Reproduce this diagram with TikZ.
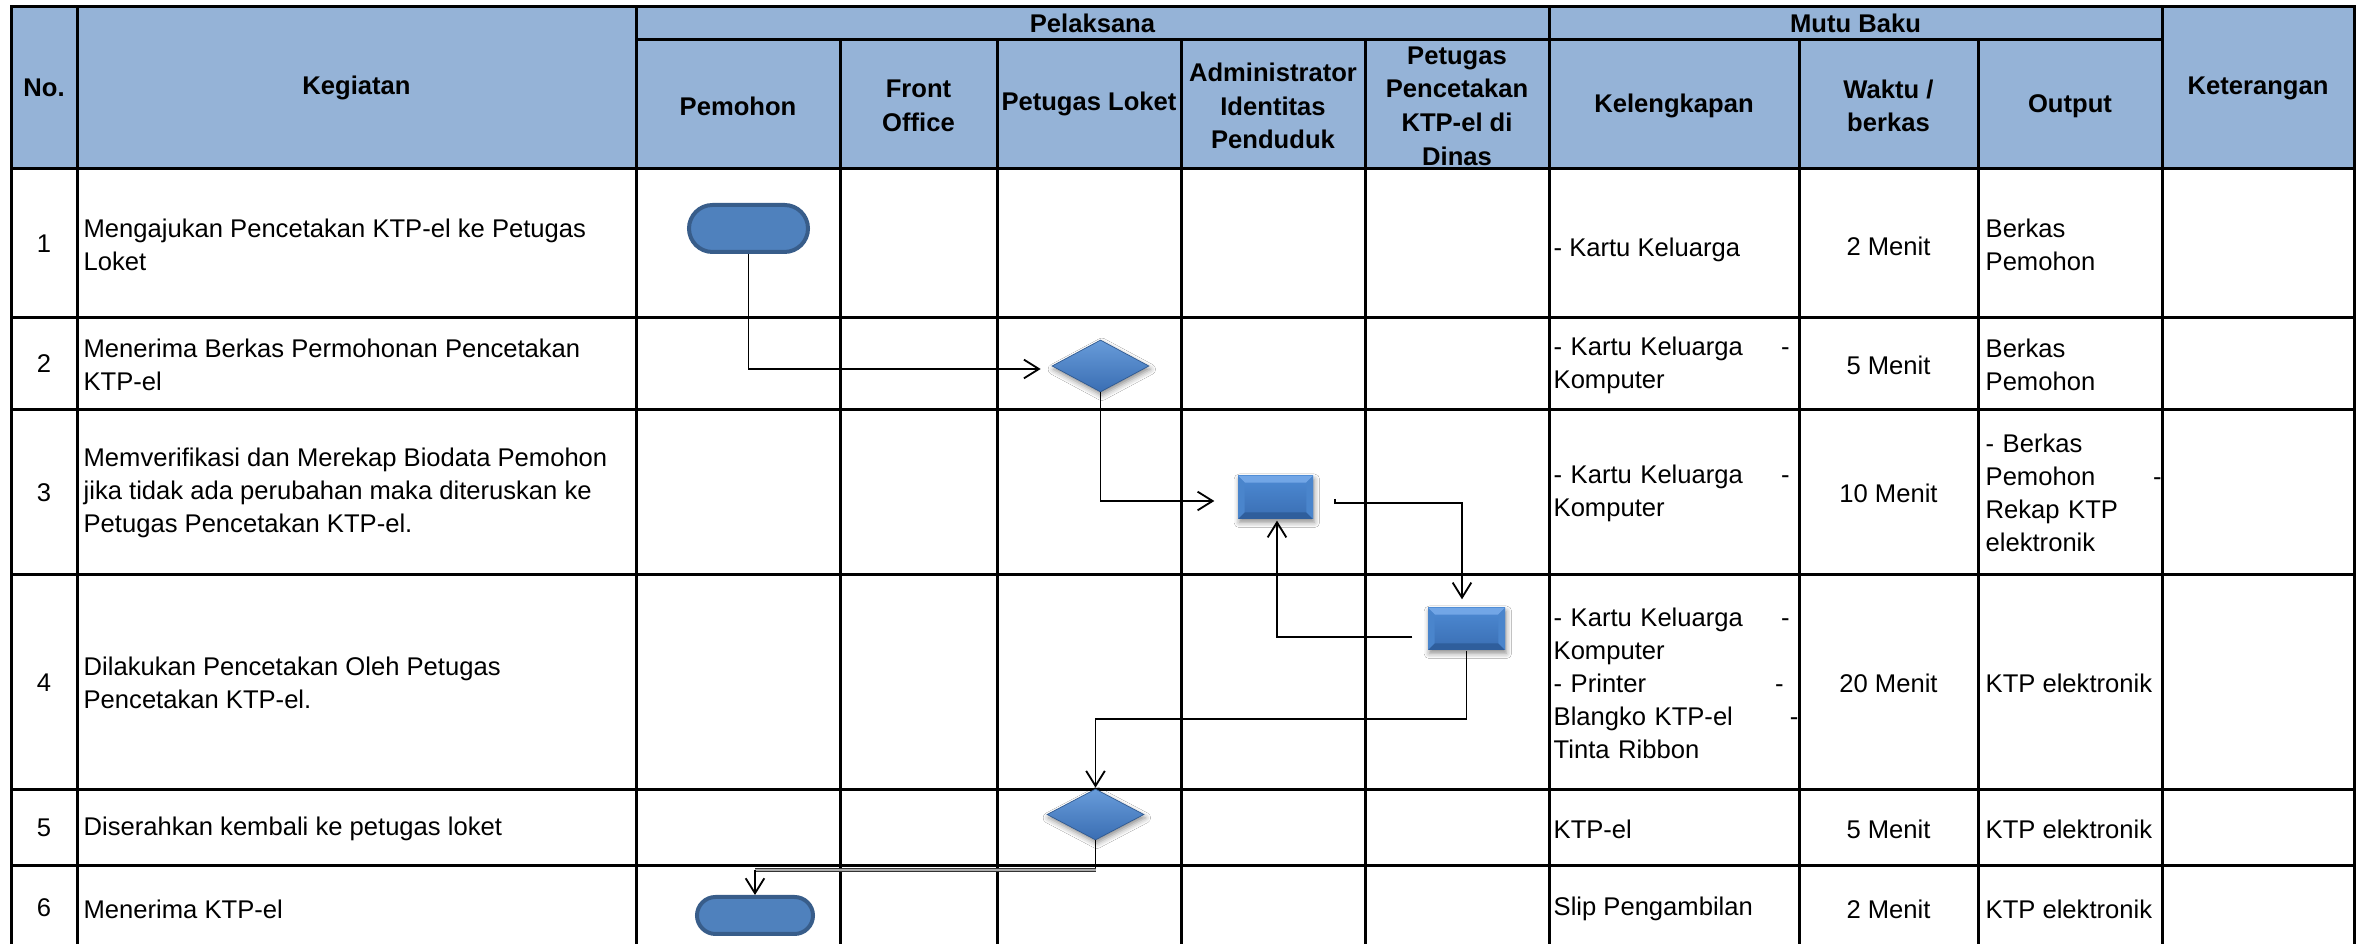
\documentclass[tikz,border=0pt]{standalone}
\usepackage{fontspec}
\setmainfont{Liberation Sans}
\usetikzlibrary{calc,arrows.meta,shapes.geometric,shapes.misc,shadows.blur}

\definecolor{hdrblue}{HTML}{95B3D7}
\definecolor{termfill}{HTML}{4F81BD}
\definecolor{termline}{HTML}{385D8A}
\definecolor{bevtop}{HTML}{72A6E6}
\definecolor{bevside}{HTML}{4A85CC}
\definecolor{bevbot}{HTML}{2F5E9C}
\definecolor{facetop}{HTML}{4D8AD3}
\definecolor{facebot}{HTML}{3A6EB3}

\begin{document}
\begin{tikzpicture}[x=0.3pt,y=-0.3pt,
  grid/.style={line width=0.9pt, line cap=rect},
  hd/.style={font=\bfseries\fontsize{7.68pt}{10.1pt}\selectfont, align=center, inner sep=0pt},
  txt/.style={font=\fontsize{7.68pt}{9.9pt}\selectfont, align=left, inner sep=0pt, anchor=west},
  ctr/.style={font=\fontsize{7.68pt}{9.9pt}\selectfont, align=center, inner sep=0pt},
  termbox/.style={rounded rectangle, inner sep=0pt, fill=termfill, draw=termline, line width=1.2pt},
  decbox/.style={diamond, inner sep=0pt, top color=facetop!85!white, bottom color=facebot,
    draw=facebot!80!black, line width=0.2pt,
    blur shadow={shadow xshift=0.4pt, shadow yshift=-1pt, shadow blur radius=1.6pt, shadow opacity=45}},
  procbox/.style={rectangle, inner sep=0pt, top color=facetop, bottom color=facebot,
    blur shadow={shadow xshift=0.4pt, shadow yshift=-1pt, shadow blur radius=1.6pt, shadow opacity=45},
    path picture={
      \fill[bevtop] (path picture bounding box.north west) -- (path picture bounding box.north east)
        -- ([shift={(-2pt,-2pt)}]path picture bounding box.north east)
        -- ([shift={(2pt,-2pt)}]path picture bounding box.north west) -- cycle;
      \fill[bevbot] (path picture bounding box.south west) -- (path picture bounding box.south east)
        -- ([shift={(-2pt,2pt)}]path picture bounding box.south east)
        -- ([shift={(2pt,2pt)}]path picture bounding box.south west) -- cycle;
      \fill[bevside] (path picture bounding box.north west) -- ([shift={(2pt,-2pt)}]path picture bounding box.north west)
        -- ([shift={(2pt,2pt)}]path picture bounding box.south west) -- (path picture bounding box.south west) -- cycle;
      \fill[bevside] (path picture bounding box.north east) -- ([shift={(-2pt,-2pt)}]path picture bounding box.north east)
        -- ([shift={(-2pt,2pt)}]path picture bounding box.south east) -- (path picture bounding box.south east) -- cycle;
    }},
  conn/.style={draw=black, line width=0.55pt},
  arr/.style={conn, -{Straight Barb[length=4.5pt, width=5.6pt, line width=0.55pt]}},
  dblconn/.style={draw=black!80, line width=0.3pt, double=gray!65, double distance=0.7pt}
]
\clip (0,0) rectangle (2365,944);
\fill[white] (0,0) rectangle (2365,944);

% header band
\fill[hdrblue] (11,7) rectangle (2354,169);

% table rules
\foreach \yy in {7,169,318,410,575,790,866}
  \draw[grid] (11,\yy) -- (2354,\yy);
\draw[grid] (636,40) -- (2162,40);
\foreach \xx in {11,77,636,1549,2162,2354}
  \draw[grid] (\xx,7) -- (\xx,960);
\foreach \xx in {840,997,1181,1365,1799,1978}
  \draw[grid] (\xx,40) -- (\xx,960);

% header labels
\node[hd] (hNo) at (44,88) {No.};
\node[hd] (hKeg) at (356.5,88) {Kegiatan};
\node[hd] (hPel) at (1092.5,23.5) {Pelaksana};
\node[hd] (hMutu) at (1855.5,23.5) {Mutu Baku};
\node[hd] (hKet) at (2258,88) {Keterangan};
\node[hd] (hPem) at (738,106) {Pemohon};
\node[hd] (hFO) at (918.5,106) {Front\\Office};
\node[hd] (hLok) at (1089,104) {Petugas Loket};
\node[hd] (hAdm) at (1273,106) {Administrator\\Identitas\\Penduduk};
\node[hd] (hCet) at (1457,106) {Petugas\\Pencetakan\\KTP-el di\\Dinas};
\node[hd] (hKel) at (1674,106) {Kelengkapan};
\node[hd] (hWak) at (1888.5,106) {Waktu /\\berkas};
\node[hd] (hOut) at (2070,106) {Output};

% row numbers
\node[ctr] (n1) at (44,243.5) {1};
\node[ctr] (n2) at (44,364) {2};
\node[ctr] (n3) at (44,492.5) {3};
\node[ctr] (n4) at (44,682.5) {4};
\node[ctr] (n5) at (44,828) {5};
\node[ctr] (n6) at (44,908) {6};

% activities
\node[txt] (k1) at (83,244.5) {Mengajukan Pencetakan KTP-el ke Petugas\\Loket};
\node[txt] (k2) at (83,364.5) {Menerima Berkas Permohonan Pencetakan\\KTP-el};
\node[txt] (k3) at (83,492.5) {Memverifikasi dan Merekap Biodata Pemohon\\jika tidak ada perubahan maka diteruskan ke\\Petugas Pencetakan KTP-el.};
\node[txt] (k4) at (83,682.5) {Dilakukan Pencetakan Oleh Petugas\\Pencetakan KTP-el.};
\node[txt] (k5) at (83,829) {Diserahkan kembali ke petugas loket};
\node[txt] (k6t) at (83,909) {Menerima KTP-el};

% requirements
\node[txt] (kel1) at (1553,250) {- Kartu Keluarga};
\node[txt, text width=70.8pt] (kel2) at (1553,365) {- Kartu Keluarga\hfill-\\Komputer};
\node[txt, text width=70.8pt] (kel3) at (1553,493.5) {- Kartu Keluarga\hfill-\\Komputer};
\node[txt, text width=70.8pt] (kel4) at (1553,683) {- Kartu Keluarga\hfill-\\Komputer\\- Printer\hfill-\kern1.8pt\\Blangko KTP-el\hfill-\kern-2.6pt\\Tinta Ribbon};
\node[txt] (kel5) at (1553,829) {KTP-el};
\node[txt] (kel6) at (1553,909) {Slip Pengambilan};

% time per file
\node[ctr] (w1) at (1888.5,246) {2 Menit};
\node[ctr] (w2) at (1888.5,365) {5 Menit};
\node[ctr] (w3) at (1888.5,493.5) {10 Menit};
\node[ctr] (w4) at (1888.5,683.5) {20 Menit};
\node[ctr] (w5) at (1888.5,829) {5 Menit};
\node[ctr] (w6) at (1888.5,909) {2 Menit};

% outputs
\node[txt] (o1) at (1985,244.5) {Berkas\\Pemohon};
\node[txt] (o2) at (1985,365) {Berkas\\Pemohon};
\node[txt, text width=52.8pt] (o3) at (1985,492.5) {- Berkas\\Pemohon\hfill-\\Rekap KTP\\elektronik};
\node[txt] (o4) at (1985,683.5) {KTP elektronik};
\node[txt] (o5) at (1985,829) {KTP elektronik};
\node[txt] (o6) at (1985,909) {KTP elektronik};

% flow symbols
\node[termbox, minimum width=35.7pt, minimum height=14.1pt] (t1) at (748.5,228.5) {};
\node[decbox, minimum width=29.1pt, minimum height=15.6pt] (d1) at (1100.5,366) {};
\node[procbox, minimum width=22.5pt, minimum height=12.9pt] (r1) at (1275.5,497.5) {};
\node[procbox, minimum width=23.1pt, minimum height=12.6pt] (r2) at (1466.5,629) {};
\node[decbox, minimum width=29.1pt, minimum height=15.3pt] (d2) at (1095.5,814.5) {};
\node[termbox, minimum width=34.8pt, minimum height=11.1pt] (t2) at (755,915.5) {};

% flow connectors
\draw[arr] (t1.south) |- ($(d1.west)+(-11,3)$);
\draw[arr] (d1.south) |- ($(r1.west)+(-23,3.5)$);
\draw[arr] ($(r1.east)+(21,1.5)$) -- ++(0,4) -| ($(r2.north)+(-4.5,-8)$);
\draw[arr] ($(r2.west)+(-15,8)$) -| ($(r1.south)+(1.5,1)$);
\draw[arr] (r2.south) -- ++(0,68) -| ($(d2.north)+(0,-1)$);
\coordinate (k6) at ($(d2.south)+(0,30)$);
\draw[conn] (d2.south) -- (k6);
\draw[dblconn] (k6) -- (k6 -| t2.north);
\draw[arr] (k6 -| t2.north) -- (t2.north);
\end{tikzpicture}
\end{document}
